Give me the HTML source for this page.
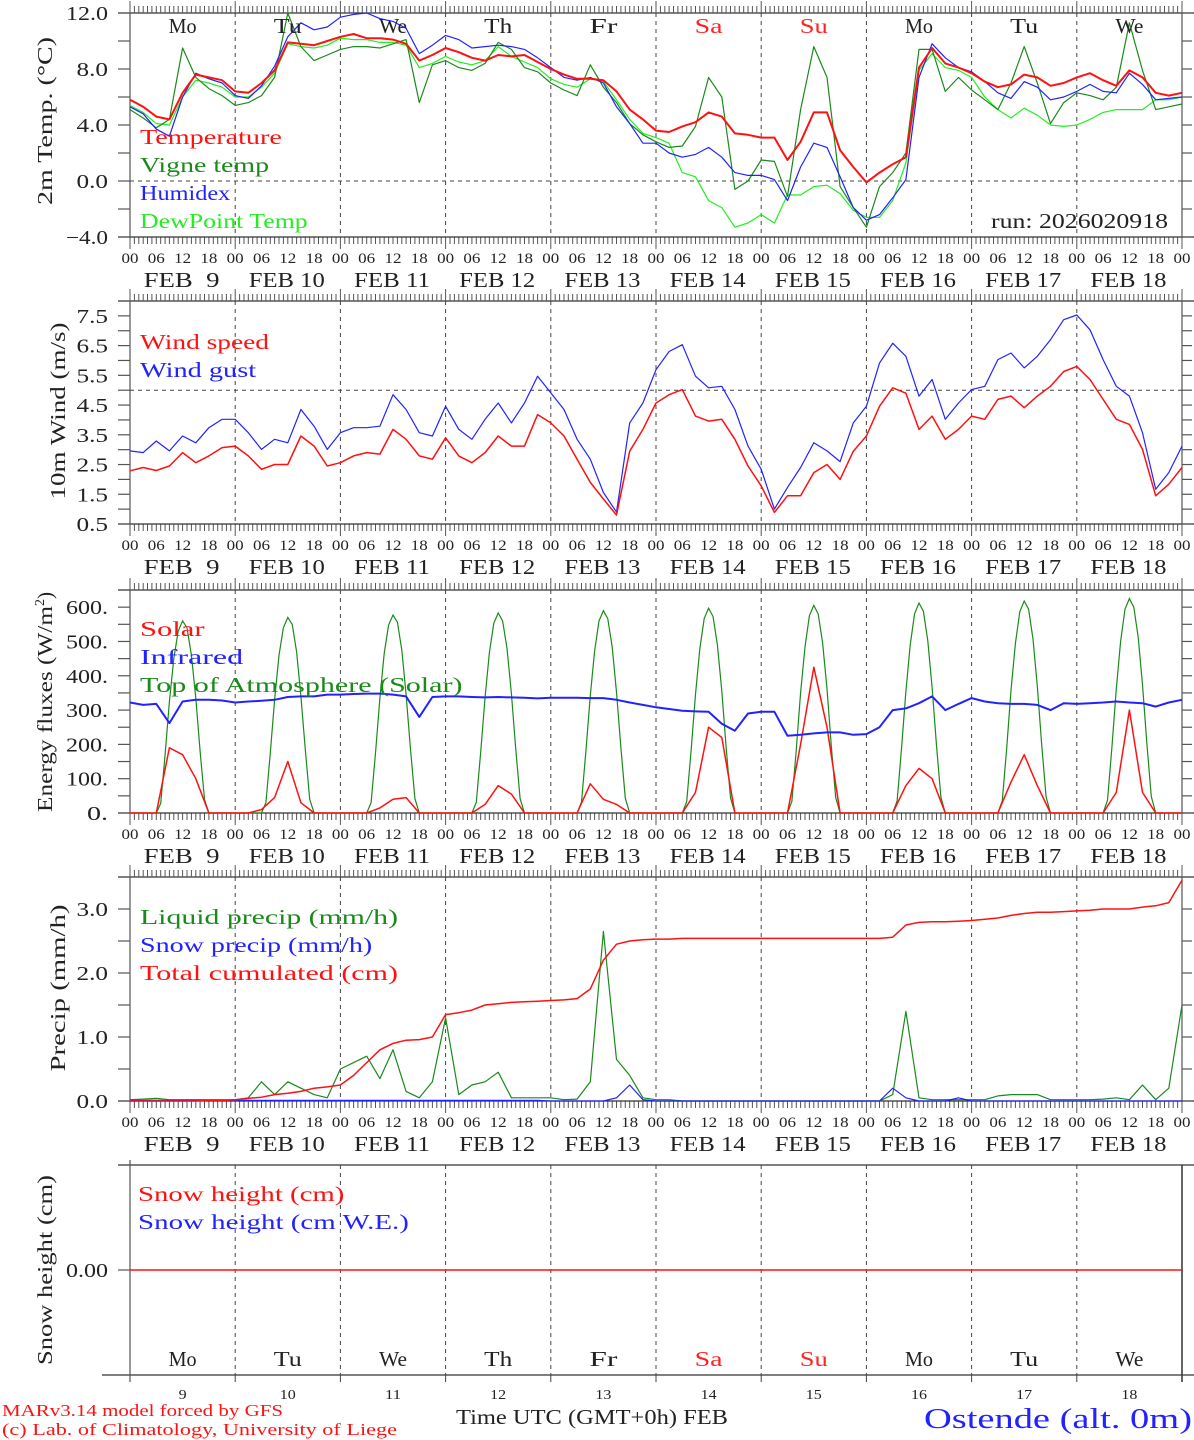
<!DOCTYPE html>
<html><head><meta charset="utf-8"><style>
html,body{margin:0;padding:0;background:#fff;}
svg{display:block;font-family:"Liberation Serif",serif;}
</style></head><body>
<svg id="chart" xmlns="http://www.w3.org/2000/svg" width="1194" height="1440" viewBox="0 0 1194 1440"></svg>
<script>
// ---- data (3-hourly, 81 values, Feb 9 00UTC .. Feb 19 00UTC) ----
const dayNames = ["Mo","Tu","We","Th","Fr","Sa","Su","Mo","Tu","We"];
const dayNums = ["9","10","11","12","13","14","15","16","17","18"];
const hourLabels = ["00","06","12","18"];
const tempTicks = ["12.0","8.0","4.0","0.0","\u22124.0"];
const tempTickVals = [12,8,4,0,-4];
const windTickVals = [0.5,1.5,2.5,3.5,4.5,5.5,6.5,7.5];
const fluxTickVals = [0,100,200,300,400,500,600];
const precTickVals = [0,1,2,3];

const temperature = [5.8,5.3,4.6,4.4,6.3,7.6,7.4,7.2, 6.4,6.3,7.0,7.9,9.9,9.8,9.7,10.0, 10.3,10.5,10.2,10.2,10.1,9.8,8.6,9.0, 9.5,9.2,8.8,8.6,9.0,8.9,9.0,8.5, 8.0,7.6,7.3,7.3,7.2,6.4,5.1,4.4, 3.6,3.5,3.9,4.2,4.9,4.6,3.4,3.3, 3.1,3.1,1.5,2.8,4.9,4.9,2.2,1.0, -0.1,0.6,1.2,1.7,8.1,9.5,8.4,8.1, 7.7,7.1,6.7,6.9,7.6,7.4,6.8,7.0, 7.4,7.7,7.2,6.8,7.9,7.4,6.3,6.1, 6.3];
const vigne = [5.1,4.5,3.8,4.4,9.5,7.4,6.6,6.1, 5.4,5.6,6.1,7.4,12.0,9.6,8.6,9.0, 9.4,9.6,9.6,9.5,9.8,10.1,5.6,8.3, 8.6,8.1,7.9,8.4,9.9,9.4,8.1,7.8, 7.0,6.5,6.1,8.3,6.7,5.6,4.1,3.3, 2.8,2.4,2.5,3.9,7.4,6.0,-0.6,0.0, 1.5,1.4,-1.1,5.1,9.6,7.4,-0.4,-1.9, -3.3,-0.4,0.6,2.0,9.4,9.4,6.4,7.4, 6.5,5.8,5.1,7.0,9.6,7.0,4.1,5.6, 6.3,6.1,5.8,6.7,11.3,7.9,5.1,5.3, 5.5];
const humidex = [5.3,4.8,3.7,3.2,6.0,7.7,7.3,7.0, 6.1,5.9,6.8,8.2,10.3,11.3,10.8,11.0, 11.7,11.9,12.0,11.6,11.4,10.9,9.1,9.7, 10.4,10.1,9.5,9.6,9.7,9.6,9.4,8.8, 8.1,7.4,7.2,7.4,7.0,5.3,4.1,2.7, 2.7,2.0,1.7,1.9,2.4,1.7,0.6,0.4, 0.4,0.1,-1.4,1.0,2.7,2.4,0.3,-1.9, -2.8,-2.4,-1.2,0.1,7.4,9.8,8.8,8.1, 7.8,7.1,6.3,5.9,7.1,6.7,5.8,6.0, 6.4,6.9,6.4,6.3,7.7,6.9,5.8,5.9, 6.0];
const dewpoint = [5.4,4.9,4.1,4.0,6.0,7.2,7.0,6.7, 6.0,6.0,6.7,7.7,9.8,9.6,9.5,9.7, 10.2,10.1,10.1,9.9,9.9,9.7,8.1,8.4, 8.9,8.5,8.3,8.6,9.6,8.9,8.5,8.1, 7.3,6.9,6.7,7.3,7.1,5.8,4.4,3.4, 3.1,2.7,0.6,0.3,-1.4,-1.9,-3.3,-3.0, -2.4,-3.0,-1.0,-1.0,-0.4,-0.3,-0.9,-2.1, -2.6,-2.6,-1.4,1.3,7.9,9.1,8.1,7.9, 7.4,6.0,5.1,4.5,5.2,4.7,4.0,3.9, 4.0,4.4,4.9,5.1,5.1,5.1,5.8,5.8, 6.0];

const windSpeed = [2.29,2.4,2.3,2.45,2.9,2.56,2.79,3.07, 3.12,2.79,2.34,2.5,2.5,3.46,3.12,2.45, 2.56,2.79,2.9,2.85,3.68,3.35,2.79,2.68, 3.4,2.79,2.56,2.9,3.46,3.12,3.12,4.18, 3.9,3.46,2.68,1.9,1.34,0.8,2.95,3.68, 4.57,4.85,5.02,4.13,3.96,4.02,3.35,2.45, 1.78,0.89,1.45,1.45,2.23,2.5,2.0,2.95, 3.46,4.46,5.08,4.9,3.68,4.13,3.35,3.68, 4.13,4.02,4.69,4.8,4.41,4.8,5.13,5.63, 5.8,5.36,4.69,4.02,3.85,3.01,1.45,1.84, 2.4];
const windGust = [2.96,2.9,3.29,2.96,3.46,3.23,3.74,4.02, 4.02,3.57,3.01,3.35,3.23,4.35,3.79,3.01, 3.57,3.74,3.74,3.79,4.85,4.35,3.57,3.46, 4.46,3.68,3.35,4.02,4.57,3.9,4.57,5.47, 4.91,4.35,3.35,2.68,1.56,0.9,3.9,4.57, 5.69,6.3,6.53,5.47,5.08,5.13,4.35,3.12, 2.34,1.0,1.73,2.4,3.23,2.96,2.6,3.9, 4.46,5.91,6.58,6.14,4.8,5.36,4.02,4.57, 5.02,5.13,6.03,6.25,5.75,6.14,6.7,7.37, 7.53,7.03,6.03,5.13,4.8,3.57,1.67,2.23, 3.12];

const solar = [0,0,0,190,170,100,0,0, 0,0,10,45,150,30,0,0, 0,0,0,15,40,45,0,0, 0,0,0,25,80,55,0,0, 0,0,0,85,40,25,0,0, 0,0,0,60,250,220,0,0, 0,0,0,200,425,250,0,0, 0,0,0,80,130,100,0,0, 0,0,0,90,170,80,0,0, 0,0,0,60,300,60,0,0, 0];
const infrared = [322,315,318,262,325,330,330,328, 322,325,327,330,338,340,340,345, 345,347,348,348,345,340,280,338, 340,340,338,337,338,337,336,334, 336,336,336,335,335,330,322,315, 308,303,298,296,295,260,240,290, 295,295,225,228,232,235,235,228, 230,250,300,305,320,340,300,318, 335,325,320,318,318,315,300,320, 318,320,322,325,322,320,310,322, 330];
// top-of-atmosphere, hourly from 06 to 18 UTC for each day
const toaDaily = [
 [0,28,170,325,450,530,560,540,460,335,180,40,0],
 [0,30,175,330,460,540,570,550,470,340,185,40,0],
 [0,30,175,335,465,548,577,556,475,345,185,42,0],
 [0,31,178,338,468,553,583,560,480,348,188,42,0],
 [0,32,180,342,472,560,590,566,484,352,190,43,0],
 [0,33,182,346,478,567,597,573,490,356,192,44,0],
 [0,34,185,351,484,575,605,580,496,362,195,45,0],
 [0,35,187,355,490,581,612,588,502,366,197,46,0],
 [0,36,189,358,494,587,618,594,507,370,199,47,0],
 [0,37,191,362,500,594,625,600,512,374,201,48,0]];

const liquidPrecip = [0.02,0.03,0.04,0.02,0.02,0.02,0.02,0.02, 0.02,0.05,0.3,0.1,0.3,0.2,0.1,0.05, 0.5,0.6,0.7,0.35,0.8,0.15,0.05,0.3, 1.3,0.1,0.25,0.3,0.45,0.05,0.05,0.05, 0.05,0.02,0.03,0.3,2.65,0.65,0.4,0.05, 0.02,0.02,0,0,0,0,0,0, 0,0,0,0,0,0,0,0, 0,0,0.1,1.4,0.05,0.02,0.02,0.02, 0.02,0.02,0.08,0.1,0.1,0.1,0.02,0.02, 0.02,0.02,0.03,0.05,0.02,0.25,0.02,0.2, 1.5];
const snowPrecip = [0.01,0.01,0.01,0.01,0.01,0.01,0.01,0.01, 0.01,0.01,0.01,0.01,0.01,0.01,0.01,0.01, 0.01,0.01,0.01,0.01,0.01,0.01,0.01,0.01, 0.01,0.01,0.01,0.01,0.01,0.01,0.01,0.01, 0,0,0,0,0,0.05,0.25,0.02, 0,0,0,0,0,0,0,0, 0,0,0,0,0,0,0,0, 0,0,0.2,0.05,0,0,0,0.05, 0,0,0,0,0,0,0,0, 0,0,0,0,0,0,0,0, 0];
const totalCum = [0,0,0,0,0,0,0.01,0.01, 0.02,0.04,0.06,0.1,0.12,0.15,0.2,0.22, 0.25,0.4,0.6,0.8,0.9,0.95,0.96,1.0, 1.35,1.38,1.42,1.5,1.52,1.54,1.55,1.56, 1.57,1.58,1.6,1.75,2.2,2.45,2.5,2.52, 2.53,2.53,2.54,2.54,2.54,2.54,2.54,2.54, 2.54,2.54,2.54,2.54,2.54,2.54,2.54,2.54, 2.54,2.54,2.56,2.75,2.79,2.8,2.8,2.81, 2.82,2.84,2.86,2.9,2.93,2.95,2.95,2.96, 2.97,2.98,3.0,3.0,3.0,3.03,3.05,3.1, 3.45];
const snowHeight = [0,0,0,0,0,0,0,0,0,0,0];

// ---- layout ----
const SVGNS = "http://www.w3.org/2000/svg";
const svg = document.getElementById("chart");
const X0 = 130, X1 = 1182;
function X(h){ return X0 + h*(X1-X0)/240; }
function mk(tag, attrs, parent){ const e = document.createElementNS(SVGNS, tag); for (const k in attrs) e.setAttribute(k, attrs[k]); (parent||svg).appendChild(e); return e; }
function txt(str, x, y, size, color, anchor, parent, width){
  const t = mk("text",{x:x,y:y,"font-size":size,fill:color,"text-anchor":anchor||"start"},parent);
  t.setAttribute("xml:space","preserve"); t.style.whiteSpace="pre"; t.textContent = str;
  if (width){ t.setAttribute("textLength", width); t.setAttribute("lengthAdjust","spacingAndGlyphs"); }
  return t; }

const panels = [
 {name:"temperature", top:13, bot:237, vmin:-4, vmax:12},
 {name:"wind", top:301, bot:524, vmin:0.5, vmax:8.0},
 {name:"flux", top:590, bot:813, vmin:0, vmax:650},
 {name:"precip", top:877, bot:1101, vmin:0, vmax:3.5},
 {name:"snow", top:1165, bot:1375, vmin:-1, vmax:1}
];
function yScale(p){ return v => p.bot - (v - p.vmin)*(p.bot-p.top)/(p.vmax-p.vmin); }

function frame(p, idx, majors, labels, minors, timeAxis){
  const g = mk("g",{});
  
  
  const Y = yScale(p);
  mk("line",{x1:118,y1:p.top,x2:1194,y2:p.top,stroke:"#333","stroke-width":1.2},g);
  if (timeAxis){
    let d="";
    for (let h=0; h<=240; h++){ const x=X(h).toFixed(1); const L = h%24===0?12:7;
      d += `M${x} ${p.top}V${p.top-L}`; d += `M${x} ${p.bot}V${p.bot+L}`; }
    mk("path",{d:d,stroke:"#555","stroke-width":1},g);
    mk("line",{x1:118,y1:p.bot,x2:1194,y2:p.bot,stroke:"#333","stroke-width":1.2},g);
  }
  mk("line",{x1:X0,y1:p.top,x2:X0,y2:p.bot,stroke:"#555","stroke-width":1.2},g);
  mk("line",{x1:X1,y1:p.top,x2:X1,y2:p.bot,stroke:"#555","stroke-width":1.2},g);
  for (let d=1; d<10; d++){ mk("line",{x1:X(d*24),y1:p.top,x2:X(d*24),y2:p.bot,stroke:"#444","stroke-width":1,"stroke-dasharray":"4,4"},g); }
  const all = majors.concat(minors);
  all.forEach(v=>{ const y=Y(v); mk("line",{x1:118,y1:y,x2:X0,y2:y,stroke:"#555","stroke-width":1.2},g);
     if (timeAxis) mk("line",{x1:X1,y1:y,x2:1192,y2:y,stroke:"#555","stroke-width":1.2},g); });
  majors.forEach((v,i)=>{ const s=labels[i]; const t = txt(s,108,Y(v)+7,20,"#222","end",g,s.length*10.5);
      });
  if (timeAxis){
    for (let h=0; h<=240; h+=6){ const t = txt(hourLabels[(h/6)%4], X(h), p.bot+26, 15, "#222","middle",g,17);
        }
    for (let d=0; d<10; d++){ const s = dayNums[d].length===1 ? "FEB  "+dayNums[d] : "FEB "+dayNums[d];
      const t = txt(s, X(d*24+12)-1, p.bot+50, 21, "#222","middle",g,76);
        }
  }
  return g;
}
function line(p, vals, color, w, name, step){
  const Y = yScale(p); step = step||3;
  const d = vals.map((v,i)=>(i?"L":"M")+X(i*step).toFixed(1)+" "+Y(Math.max(p.vmin,Math.min(p.vmax,v))).toFixed(1)).join("");
  const e = mk("path",{d:d,fill:"none",stroke:color,"stroke-width":w,"stroke-linejoin":"round"});
  
  
  return e;
}
function legend(items, x, y0){
  items.forEach((it,i)=>{ const t = txt(it[0], x, y0+i*28, 21, it[1], "start", null, it[0].length*12.9);
      });
}
function ytitle(str, x, y, w){
  const t = mk("text",{x:0,y:0,"font-size":21,fill:"#222","text-anchor":"middle",transform:`translate(${x},${y}) rotate(-90)`,textLength:w,lengthAdjust:"spacingAndGlyphs"});
  t.textContent = str;
   
  return t;
}

// Panel 1
const P1 = panels[0];
frame(P1,0,tempTickVals,tempTicks,[10,6,2,-2],true);
mk("line",{x1:X0,y1:yScale(P1)(0),x2:X1,y2:yScale(P1)(0),stroke:"#444","stroke-dasharray":"4,4"});
line(P1, dewpoint, "#22ee22", 1.2, "dewpoint-line");
line(P1, vigne, "#1a8a1a", 1.2, "vigne-temp-line");
line(P1, humidex, "#2222ff", 1.2, "humidex-line");
line(P1, temperature, "#ff1111", 2, "temperature-line");
legend([["Temperature","#ff1111"],["Vigne temp","#1a8a1a"],["Humidex","#2222ff"],["DewPoint Temp","#22ee22"]],140,144);
dayNames.forEach((n,d)=>{ const t = txt(n, X(d*24+12), 33, 21, (d===5||d===6)?"#ff2222":"#222","middle",null,28);
    });
{ const t = txt("run: 2026020918",1168,228,21,"#222","end",null,177);   }
ytitle("2m Temp. (\u00B0C)",52,121,168);

// Panel 2
const P2 = panels[1];
frame(P2,1,windTickVals,windTickVals.map(v=>v.toFixed(1)),[1,2,3,4,5,6,7],true);
mk("line",{x1:X0,y1:yScale(P2)(5),x2:X1,y2:yScale(P2)(5),stroke:"#444","stroke-dasharray":"4,4"});
line(P2, windGust, "#2222ff", 1.2, "wind-gust-line");
line(P2, windSpeed, "#ff1111", 1.5, "wind-speed-line");
legend([["Wind speed","#ff1111"],["Wind gust","#2222ff"]],140,349);
ytitle("10m Wind (m/s)",65,411,177);

// Panel 3
const P3 = panels[2];
frame(P3,2,fluxTickVals,fluxTickVals.map(v=>v+"."),[50,150,250,350,450,550],true);
{
  const Y = yScale(P3);
  const pts=[];
  for (let dd=0; dd<10; dd++){ toaDaily[dd].forEach((v,k)=>pts.push([dd*24+6+k, v])); }
  const full=[[0,0]].concat(pts).concat([[240,0]]);
  const d = full.map((p,i)=>(i?"L":"M")+X(p[0]).toFixed(1)+" "+Y(p[1]).toFixed(1)).join("");
  const e = mk("path",{d:d,fill:"none",stroke:"#1a8a1a","stroke-width":1.2});
   
}
line(P3, solar, "#ff1111", 1.5, "solar-line");
line(P3, infrared, "#2222ff", 2, "infrared-line");
legend([["Solar","#ff1111"],["Infrared","#2222ff"],["Top of Atmosphere (Solar)","#1a8a1a"]],140,636);
{ const t = mk("text",{x:0,y:0,"font-size":21,fill:"#222","text-anchor":"middle",transform:"translate(52,702) rotate(-90)"});
   
  const s0 = mk("tspan",{textLength:206,lengthAdjust:"spacingAndGlyphs"},t); s0.textContent = "Energy fluxes (W/m";
  const s = mk("tspan",{dy:-8,"font-size":14},t); s.textContent="2";
  const s2 = mk("tspan",{dy:8},t); s2.textContent=")"; }

// Panel 4
const P4 = panels[3];
frame(P4,3,precTickVals,precTickVals.map(v=>v.toFixed(1)),[0.5,1.5,2.5],true);
line(P4, liquidPrecip, "#1a8a1a", 1.2, "liquid-precip-line");
line(P4, snowPrecip, "#2222ff", 1.2, "snow-precip-line");
line(P4, totalCum, "#ff1111", 1.5, "total-cumulated-line");
legend([["Liquid precip (mm/h)","#1a8a1a"],["Snow precip (mm/h)","#2222ff"],["Total cumulated (cm)","#ff1111"]],140,924);
ytitle("Precip (mm/h)",65,988,167);

// Panel 5
const P5 = panels[4];
{ const g = mk("g",{});  
  mk("line",{x1:118,y1:P5.top,x2:1194,y2:P5.top,stroke:"#333","stroke-width":1.2},g);
  mk("line",{x1:102,y1:P5.bot,x2:1194,y2:P5.bot,stroke:"#333","stroke-width":1.2},g);
  mk("line",{x1:X0,y1:P5.top-5,x2:X0,y2:P5.bot+7,stroke:"#555","stroke-width":1.2},g);
  mk("line",{x1:X1,y1:P5.top,x2:X1,y2:P5.bot+7,stroke:"#333","stroke-width":1.5},g);
  for (let d=1; d<10; d++){ mk("line",{x1:X(d*24),y1:P5.top,x2:X(d*24),y2:P5.bot,stroke:"#444","stroke-dasharray":"4,4"},g);
    mk("line",{x1:X(d*24),y1:P5.bot,x2:X(d*24),y2:P5.bot+7,stroke:"#444"},g); }
  const y0 = yScale(P5)(0);
  mk("line",{x1:118,y1:y0,x2:X0,y2:y0,stroke:"#555","stroke-width":1.2},g);
  const t = txt("0.00",108,y0+7,20,"#222","end",g,42);  
}
line(P5, snowHeight, "#ff1111", 1.5, "snow-height-line", 24);
legend([["Snow height (cm)","#ff1111"],["Snow height (cm W.E.)","#2222ff"]],138,1201);
ytitle("Snow height (cm)",52,1270,190);
dayNames.forEach((n,d)=>{ const t = txt(n, X(d*24+12), 1366, 21, (d===5||d===6)?"#ff2222":"#222","middle",null,28);
    });
dayNums.forEach((n,d)=>{ const t = txt(n, X(d*24+12), 1399, 14, "#222","middle",null,n.length*8);
    });
{ let t = txt("Time UTC (GMT+0h) FEB",456,1424,21,"#222","start",null,272);  
  t = txt("MARv3.14 model forced by GFS",2,1416,17,"#ff1111","start",null,281);  
  t = txt("(c) Lab. of Climatology, University of Liege",2,1435,17,"#ff1111","start",null,395);  
  t = txt("Ostende (alt. 0m)",1192,1428,29,"#2222ff","end",null,268);   }
</script>
</body></html>
